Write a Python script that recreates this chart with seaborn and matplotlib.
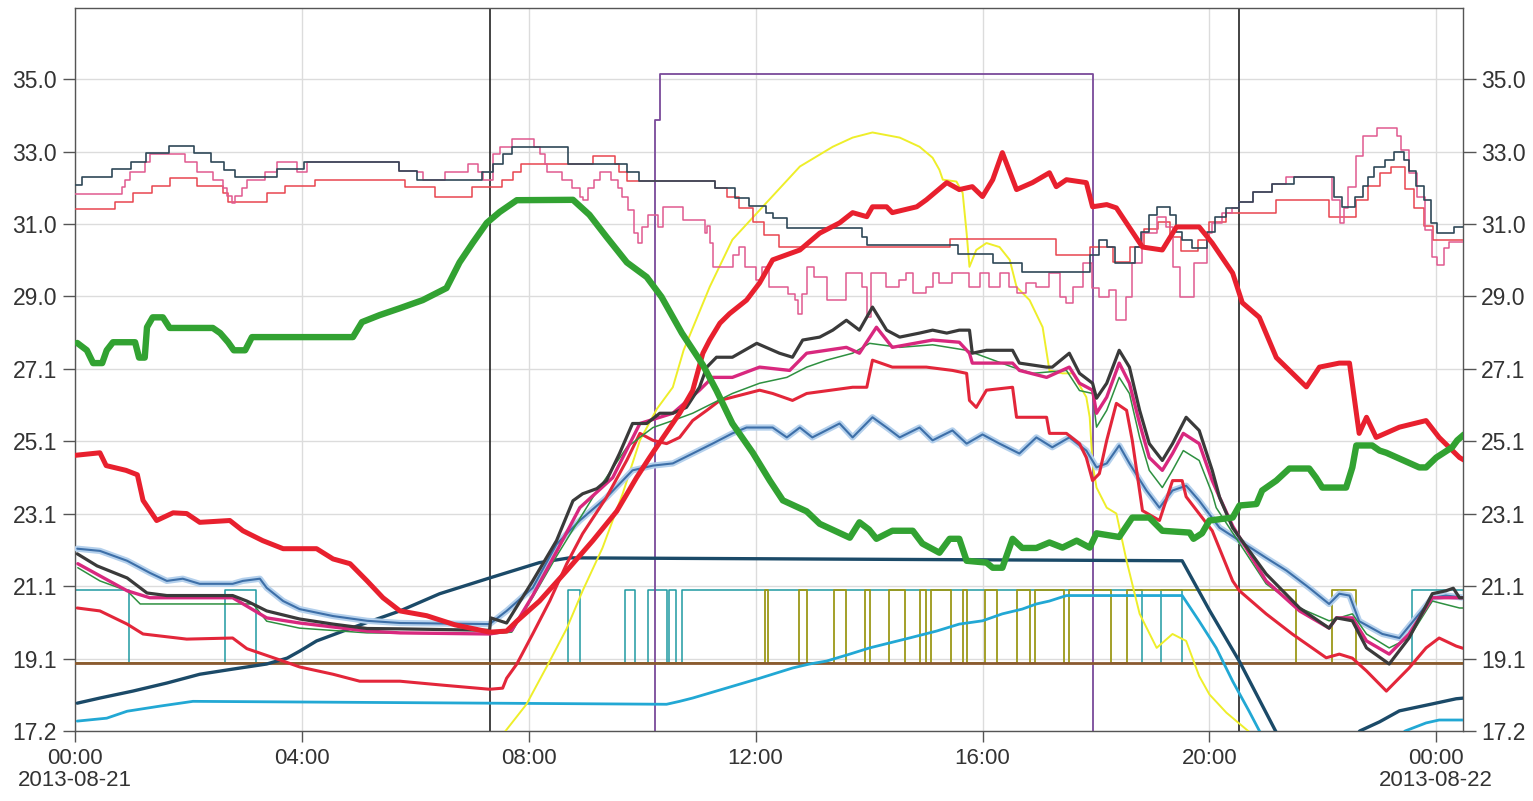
"""Greenhouse climate log, 2013-08-21: temperatures and switching signals."""

import matplotlib
matplotlib.use("Agg")
import matplotlib.pyplot as plt
import pandas as pd
import seaborn as sns

# ---- data (hour of day, value) ------------------------------------------
dark_top = [(0, 32.12), (0.12, 32.32), (0.65, 32.56), (0.99, 32.75), (1.25, 33.0), (1.66, 33.19),
            (2.1, 33.0), (2.4, 32.75), (2.62, 32.53), (2.82, 32.32), (3.56, 32.56), (4.04, 32.73),
            (5.71, 32.5), (6.03, 32.26), (7.17, 32.48), (7.37, 32.7), (7.54, 32.95), (7.7, 33.16),
            (8.69, 32.7), (9.73, 32.48), (9.94, 32.23), (11.28, 32.04), (11.64, 31.77), (11.89, 31.55),
            (12.19, 31.36), (12.3, 31.2), (12.55, 30.95), (13.87, 30.7), (13.97, 30.48), (15.56, 30.23),
            (16.18, 29.99), (16.7, 29.74), (17.89, 30.2), (18.06, 30.62), (18.2, 30.42), (18.33, 29.99),
            (18.68, 30.42), (18.8, 30.84), (18.94, 31.3), (19.07, 31.52), (19.3, 31.3), (19.42, 30.84),
            (19.52, 30.62), (19.7, 30.4), (19.95, 30.84), (20.1, 31.25), (20.3, 31.5), (20.53, 31.66),
            (20.76, 31.93), (21.1, 32.15), (21.5, 32.34), (22.2, 31.8), (22.33, 31.52), (22.56, 31.8),
            (22.7, 32.1), (22.8, 32.34), (22.9, 32.6), (23.1, 32.8), (23.25, 33.03), (23.43, 32.8),
            (23.52, 32.5), (23.65, 32.1), (23.78, 31.7), (23.9, 31.08), (24.02, 30.8), (24.32, 30.97),
            (24.49, 30.97)]

pink_top = [(0, 31.88), (0.83, 32.07), (0.88, 32.26), (0.97, 32.48), (1.23, 32.73), (1.32, 32.95),
            (1.94, 32.73), (2.15, 32.48), (2.43, 32.26), (2.61, 32.04), (2.68, 31.82), (2.77, 31.63),
            (2.82, 31.82), (2.94, 32.04), (3.03, 32.26), (3.35, 32.48), (3.56, 32.73), (3.91, 32.48),
            (4.09, 32.73), (5.71, 32.5), (6.03, 32.48), (6.13, 32.26), (6.52, 32.48), (6.93, 32.7),
            (7.1, 32.48), (7.2, 32.26), (7.37, 32.95), (7.49, 33.14), (7.7, 33.36), (8.1, 33.14),
            (8.19, 32.95), (8.28, 32.7), (8.33, 32.48), (8.58, 32.26), (8.76, 32.04), (8.9, 31.8),
            (8.95, 31.71), (9.05, 32.04), (9.15, 32.26), (9.25, 32.48), (9.45, 32.26), (9.58, 32.04),
            (9.65, 31.8), (9.75, 31.44), (9.85, 30.8), (9.92, 30.53), (10.0, 30.97), (10.1, 31.3),
            (10.28, 30.97), (10.36, 31.52), (10.72, 31.16), (11.1, 30.8), (11.15, 31.0), (11.2, 30.53),
            (11.25, 29.88), (11.6, 30.2), (11.7, 30.42), (11.82, 29.88), (12.0, 29.52), (12.12, 29.88),
            (12.23, 29.33), (12.57, 29.15), (12.7, 28.97), (12.75, 28.6), (12.82, 29.15), (12.9, 29.88),
            (13.03, 29.6), (13.26, 28.97), (13.6, 29.71), (13.88, 29.33), (13.97, 28.5), (14.04, 29.71),
            (14.3, 29.33), (14.53, 29.52), (14.65, 29.71), (14.77, 29.16), (15.01, 29.33), (15.12, 29.71),
            (15.24, 29.44), (15.47, 29.71), (15.77, 29.33), (15.95, 29.71), (16.12, 29.33), (16.3, 29.71),
            (16.47, 29.33), (16.6, 29.16), (16.77, 29.44), (16.95, 29.33), (17.18, 29.71), (17.36, 29.05),
            (17.48, 28.9), (17.6, 29.33), (17.77, 29.99), (17.93, 29.3), (18.05, 29.05), (18.23, 29.25),
            (18.36, 28.42), (18.53, 29.05), (18.63, 29.99), (18.82, 30.8), (19.07, 31.25), (19.24, 30.97),
            (19.36, 29.88), (19.48, 29.05), (19.72, 29.99), (19.95, 30.8), (20.05, 31.08), (20.23, 31.36),
            (20.4, 31.5), (20.53, 31.66), (20.76, 31.93), (21.1, 32.15), (21.35, 32.34), (22.17, 31.7),
            (22.3, 31.08), (22.37, 31.5), (22.45, 32.07), (22.58, 32.9), (22.7, 33.44), (22.95, 33.68),
            (23.3, 33.44), (23.38, 33.08), (23.52, 32.45), (23.66, 31.79), (23.8, 30.89), (23.93, 30.15),
            (24.02, 29.93), (24.14, 30.4), (24.23, 30.56), (24.49, 30.56)]

red_top = [(0, 31.47), (0.7, 31.66), (1.02, 31.9), (1.36, 32.1), (1.67, 32.3), (2.15, 32.1),
           (2.61, 31.9), (2.7, 31.66), (3.38, 31.9), (3.7, 32.1), (4.23, 32.26), (5.82, 32.07),
           (6.34, 31.8), (7.0, 32.07), (7.52, 32.26), (7.72, 32.48), (7.87, 32.7), (9.13, 32.92),
           (9.52, 32.7), (9.6, 32.48), (9.74, 32.23), (11.28, 32.04), (11.49, 31.8), (11.7, 31.5),
           (11.95, 31.1), (12.15, 30.75), (12.42, 30.42), (15.42, 30.64), (17.3, 30.2), (17.89, 30.42),
           (18.3, 30.0), (18.6, 30.42), (18.85, 30.9), (19.1, 31.1), (19.3, 30.7), (19.5, 30.3),
           (19.8, 30.6), (20.0, 31.1), (20.3, 31.36), (21.18, 31.71), (22.11, 31.25), (22.59, 31.71),
           (22.8, 32.1), (23.0, 32.45), (23.2, 32.6), (23.45, 32.0), (23.6, 31.5), (23.78, 31.0),
           (23.95, 30.62), (24.49, 30.62)]

green_thick = [(0.04, 27.8), (0.21, 27.6), (0.32, 27.25), (0.48, 27.25), (0.56, 27.6), (0.67, 27.82),
               (1.06, 27.82), (1.13, 27.4), (1.23, 27.4), (1.27, 28.23), (1.37, 28.5), (1.55, 28.5),
               (1.67, 28.21), (2.43, 28.21), (2.56, 28.07), (2.7, 27.82), (2.8, 27.6), (3.0, 27.6),
               (3.12, 27.96), (4.9, 27.96), (5.06, 28.37), (5.37, 28.56), (5.73, 28.75), (6.13, 28.97),
               (6.55, 29.3), (6.78, 30.0), (7.01, 30.53), (7.26, 31.08), (7.49, 31.38), (7.79, 31.7),
               (8.78, 31.71), (9.07, 31.3), (9.37, 30.7), (9.73, 30.0), (10.08, 29.6), (10.34, 29.06),
               (10.7, 28.07), (11.07, 27.2), (11.31, 26.5), (11.59, 25.6), (11.95, 24.8), (12.25, 24.04),
               (12.48, 23.5), (12.9, 23.2), (13.13, 22.86), (13.66, 22.48), (13.83, 22.9), (14.0, 22.7),
               (14.13, 22.45), (14.41, 22.67), (14.77, 22.67), (14.94, 22.32), (15.24, 22.07), (15.42, 22.45),
               (15.59, 22.45), (15.72, 21.85), (16.07, 21.8), (16.18, 21.66), (16.35, 21.66), (16.53, 22.45),
               (16.7, 22.2), (16.95, 22.2), (17.18, 22.35), (17.41, 22.21), (17.66, 22.4), (17.89, 22.21),
               (18.01, 22.6), (18.41, 22.5), (18.64, 23.03), (18.94, 23.03), (19.17, 22.67), (19.65, 22.62),
               (19.72, 22.45), (19.87, 22.6), (20.0, 22.95), (20.41, 23.03), (20.53, 23.36), (20.83, 23.4),
               (20.93, 23.77), (21.18, 24.04), (21.41, 24.37), (21.76, 24.37), (21.88, 24.12), (21.99, 23.85),
               (22.41, 23.85), (22.52, 24.4), (22.59, 25.0), (22.87, 25.0), (23.0, 24.86), (23.12, 24.8),
               (23.7, 24.4), (23.82, 24.4), (24.0, 24.67), (24.28, 24.95), (24.37, 25.14), (24.49, 25.3)]

red_thick = [(0, 24.73), (0.44, 24.8), (0.55, 24.45), (0.9, 24.32), (1.1, 24.2), (1.2, 23.5),
             (1.44, 22.95), (1.73, 23.16), (1.97, 23.14), (2.2, 22.9), (2.73, 22.95), (2.96, 22.67),
             (3.31, 22.4), (3.67, 22.18), (4.26, 22.18), (4.55, 21.9), (4.85, 21.77), (5.15, 21.3),
             (5.43, 20.84), (5.73, 20.48), (6.2, 20.35), (6.7, 20.1), (7.31, 19.9), (7.61, 19.93),
             (7.79, 20.2), (8.19, 20.75), (8.67, 21.58), (9.13, 22.4), (9.55, 23.2), (9.9, 24.12),
             (10.13, 24.67), (10.36, 25.2), (10.66, 25.88), (10.89, 26.5), (11.07, 27.52), (11.19, 27.88),
             (11.37, 28.34), (11.54, 28.6), (11.84, 28.97), (12.07, 29.44), (12.3, 30.07), (12.78, 30.34),
             (13.13, 30.8), (13.48, 31.08), (13.71, 31.36), (13.96, 31.25), (14.06, 31.52), (14.31, 31.52),
             (14.41, 31.36), (14.84, 31.52), (15.01, 31.71), (15.37, 32.18), (15.59, 31.99), (15.82, 32.07),
             (16.0, 31.8), (16.18, 32.26), (16.35, 33.0), (16.6, 31.99), (16.88, 32.18), (17.18, 32.45),
             (17.3, 32.07), (17.48, 32.26), (17.83, 32.18), (17.94, 31.52), (18.19, 31.58), (18.36, 31.49),
             (18.82, 30.42), (19.17, 30.34), (19.42, 30.97), (19.82, 30.97), (20.05, 30.53), (20.41, 29.71),
             (20.58, 28.9), (20.88, 28.5), (21.18, 27.4), (21.59, 26.78), (21.71, 26.6), (21.94, 27.14),
             (22.29, 27.25), (22.47, 27.25), (22.64, 25.33), (22.77, 25.77), (22.94, 25.22), (23.35, 25.5),
             (23.82, 25.68), (24.05, 25.22), (24.41, 24.67), (24.49, 24.6)]

charcoal_mid = [(0.04, 22.04), (0.39, 21.71), (0.92, 21.38), (1.27, 20.97), (1.62, 20.9), (2.78, 20.9),
                (3.03, 20.75), (3.38, 20.48), (3.96, 20.26), (4.55, 20.12), (5.15, 20.0), (5.73, 19.99),
                (7.31, 19.95), (7.33, 20.29), (7.61, 20.15), (8.07, 21.3), (8.49, 22.4), (8.78, 23.49),
                (8.95, 23.68), (9.2, 23.82), (9.37, 24.04), (9.6, 24.78), (9.83, 25.6), (10.08, 25.6),
                (10.31, 25.88), (10.54, 25.88), (10.78, 26.04), (11.01, 26.59), (11.14, 27.14), (11.31, 27.41),
                (11.59, 27.41), (12.02, 27.79), (12.42, 27.52), (12.65, 27.41), (12.83, 27.88), (13.13, 27.96),
                (13.36, 28.15), (13.6, 28.42), (13.83, 28.15), (14.06, 28.78), (14.31, 28.15), (14.54, 27.96),
                (14.89, 28.07), (15.12, 28.15), (15.37, 28.07), (15.59, 28.15), (15.77, 28.15), (15.82, 27.52),
                (16.07, 27.6), (16.53, 27.6), (16.65, 27.25), (17.13, 27.14), (17.23, 27.14), (17.53, 27.52),
                (17.71, 26.97), (17.94, 26.7), (18.01, 26.29), (18.19, 26.7), (18.41, 27.6), (18.59, 27.14),
                (18.77, 25.96), (18.94, 25.05), (19.17, 24.59), (19.35, 25.05), (19.59, 25.77), (19.82, 25.41),
                (20.05, 24.32), (20.18, 23.58), (20.41, 22.75), (21.0, 21.49), (21.59, 20.56), (22.11, 20.01),
                (22.24, 20.29), (22.52, 20.21), (22.77, 19.47), (23.17, 19.03), (23.52, 19.74), (23.93, 20.95),
                (24.17, 21.03), (24.3, 21.1), (24.41, 20.84), (24.49, 20.84)]

pink_mid = [(0.05, 21.77), (0.92, 21.03), (1.32, 20.84), (2.78, 20.84), (3.38, 20.29), (3.96, 20.15),
            (5.15, 19.93), (5.73, 19.88), (7.31, 19.85), (7.7, 19.95), (8.07, 20.9), (8.49, 22.1),
            (8.9, 23.3), (9.48, 24.12), (9.96, 25.6), (10.54, 25.88), (11.01, 26.51), (11.24, 26.86),
            (11.59, 26.86), (12.07, 27.14), (12.6, 27.05), (12.9, 27.52), (13.6, 27.68), (13.83, 27.52),
            (14.13, 28.23), (14.41, 27.68), (15.12, 27.88), (15.59, 27.82), (15.77, 27.52), (15.82, 27.25),
            (16.53, 27.25), (16.65, 27.05), (17.13, 26.86), (17.53, 27.14), (17.71, 26.7), (17.94, 26.51),
            (18.01, 25.88), (18.19, 26.32), (18.41, 27.25), (18.59, 26.7), (18.77, 25.6), (18.94, 24.67),
            (19.17, 24.32), (19.35, 24.78), (19.54, 25.33), (19.82, 25.05), (20.05, 24.04), (20.18, 23.58),
            (20.41, 22.8), (21.0, 21.3), (21.59, 20.48), (22.11, 20.01), (22.24, 20.29), (22.52, 20.29),
            (22.77, 19.66), (23.17, 19.3), (23.52, 19.85), (23.93, 20.84), (24.49, 20.84)]

green_mid = [(0.05, 21.66), (0.44, 21.3), (0.92, 21.03), (1.15, 20.67), (3.14, 20.67), (3.38, 20.2),
             (3.96, 20.01), (5.15, 19.88), (7.31, 19.85), (7.7, 19.9), (8.07, 20.85), (8.5, 22.0),
             (9.13, 23.58), (9.73, 24.95), (10.19, 25.49), (10.54, 25.68), (10.89, 25.88), (11.24, 26.15),
             (11.59, 26.42), (12.07, 26.7), (12.55, 26.86), (12.9, 27.14), (13.25, 27.33), (13.71, 27.52),
             (14.01, 27.79), (14.54, 27.68), (15.12, 27.75), (15.72, 27.6), (16.53, 27.14), (16.88, 26.97),
             (17.48, 27.05), (17.71, 26.5), (17.94, 26.42), (18.01, 25.5), (18.19, 25.96), (18.41, 26.86),
             (18.59, 26.42), (18.77, 25.22), (18.94, 24.32), (19.17, 23.85), (19.35, 24.32), (19.54, 24.86),
             (19.82, 24.59), (20.05, 23.68), (20.12, 23.3), (21.0, 21.22), (21.59, 20.56), (22.11, 20.21),
             (22.52, 20.4), (22.77, 19.85), (23.17, 19.47), (23.52, 19.74), (23.93, 20.75), (24.41, 20.56),
             (24.49, 20.56)]

red_mid = [(0.04, 20.56), (0.44, 20.48), (0.92, 20.12), (1.2, 19.85), (1.97, 19.71), (2.78, 19.74),
           (3.03, 19.45), (3.67, 19.11), (3.96, 18.95), (4.55, 18.75), (5.02, 18.56), (5.73, 18.56),
           (6.5, 18.45), (7.31, 18.34), (7.54, 18.37), (7.61, 18.64), (7.79, 19.03), (8.07, 19.85),
           (8.37, 20.75), (8.67, 21.77), (8.95, 22.59), (9.37, 23.58), (9.73, 24.6), (9.96, 25.33),
           (10.19, 25.14), (10.43, 25.05), (10.66, 25.22), (10.89, 25.68), (11.14, 25.96), (11.37, 26.23),
           (11.72, 26.37), (12.07, 26.51), (12.3, 26.42), (12.65, 26.23), (12.9, 26.42), (13.71, 26.59),
           (13.96, 26.59), (14.06, 27.33), (14.41, 27.14), (15.01, 27.14), (15.47, 27.05), (15.72, 26.97),
           (15.77, 26.23), (15.89, 26.04), (16.07, 26.51), (16.53, 26.59), (16.6, 25.77), (17.13, 25.77),
           (17.18, 25.33), (17.48, 25.33), (17.71, 25.05), (17.83, 24.67), (17.94, 24.04), (18.06, 24.23),
           (18.19, 25.14), (18.36, 26.15), (18.54, 25.96), (18.64, 25.14), (18.82, 23.22), (19.12, 22.95),
           (19.35, 24.04), (19.52, 24.04), (19.59, 23.6), (20.05, 22.67), (20.41, 21.3), (20.53, 21.03),
           (21.0, 20.4), (21.46, 19.85), (22.06, 19.2), (22.29, 19.3), (22.52, 19.19), (22.77, 18.84),
           (23.12, 18.29), (23.52, 18.92), (23.82, 19.47), (24.05, 19.74), (24.35, 19.52), (24.49, 19.45)]

blue_mid = [(0.04, 22.18), (0.44, 22.12), (0.92, 21.85), (1.32, 21.52), (1.62, 21.3), (1.9, 21.36),
            (2.2, 21.22), (2.78, 21.22), (2.96, 21.3), (3.26, 21.36), (3.38, 21.11), (3.67, 20.75),
            (3.96, 20.53), (4.55, 20.34), (5.15, 20.21), (5.73, 20.15), (7.31, 20.12), (7.61, 20.48),
            (8.07, 21.11), (8.49, 22.3), (8.9, 22.95), (9.37, 23.58), (9.83, 24.32), (10.19, 24.45),
            (10.54, 24.51), (10.89, 24.78), (11.24, 25.05), (11.59, 25.33), (11.84, 25.49), (12.3, 25.49),
            (12.55, 25.22), (12.78, 25.49), (13.0, 25.22), (13.48, 25.6), (13.71, 25.22), (14.06, 25.77),
            (14.31, 25.49), (14.54, 25.22), (14.89, 25.49), (15.12, 25.14), (15.47, 25.41), (15.72, 25.05),
            (16.0, 25.3), (16.3, 25.05), (16.65, 24.78), (16.95, 25.22), (17.23, 24.95), (17.53, 25.22),
            (17.83, 24.86), (18.01, 24.4), (18.19, 24.51), (18.41, 25.0), (18.59, 24.51), (18.89, 23.77),
            (19.12, 23.3), (19.35, 23.77), (19.59, 23.9), (19.82, 23.49), (20.18, 22.75), (20.53, 22.4),
            (21.0, 21.93), (21.36, 21.58), (21.76, 21.11), (22.11, 20.67), (22.29, 20.95), (22.47, 20.9),
            (22.64, 20.2), (23.05, 19.85), (23.35, 19.74), (23.7, 20.4), (23.93, 20.84), (24.17, 20.9),
            (24.49, 20.84)]

navy = [(0.04, 17.96), (0.44, 18.1), (1.02, 18.29), (1.62, 18.51), (2.2, 18.75), (2.78, 18.89),
        (3.38, 19.03), (3.74, 19.19), (3.96, 19.38), (4.26, 19.66), (4.85, 20.0), (5.73, 20.48),
        (6.43, 20.95), (7.31, 21.38), (8.19, 21.8), (8.72, 21.93), (19.52, 21.85), (20.0, 20.5),
        (20.53, 19.1), (21.2, 17.1), (21.6, 16.3), (22.3, 16.3), (22.65, 17.2), (23.0, 17.45),
        (23.35, 17.75), (23.93, 17.94), (24.35, 18.08), (24.49, 18.1)]

cyan = [(0.04, 17.47), (0.56, 17.55), (0.92, 17.74), (1.5, 17.88), (2.08, 18.01), (10.43, 17.93),
        (10.66, 18.01), (10.89, 18.1), (11.48, 18.37), (12.07, 18.64), (12.65, 18.92), (12.95, 19.03),
        (13.25, 19.11), (13.66, 19.3), (14.01, 19.47), (14.71, 19.74), (15.19, 19.93), (15.59, 20.12),
        (16.0, 20.21), (16.35, 20.4), (16.7, 20.53), (16.95, 20.67), (17.18, 20.75), (17.48, 20.9),
        (19.52, 20.9), (19.82, 20.2), (20.12, 19.47), (20.41, 18.56), (20.7, 17.74), (20.95, 17.0),
        (21.3, 16.5), (23.0, 16.5), (23.45, 17.2), (23.82, 17.42), (24.05, 17.5), (24.49, 17.5)]

yellow = [(7.4, 16.8), (7.54, 17.1), (7.96, 17.93), (8.37, 19.11), (8.67, 20.0), (8.95, 21.03),
          (9.3, 22.2), (9.66, 23.7), (9.96, 25.14), (10.26, 26.0), (10.54, 26.59), (10.73, 27.6),
          (11.19, 29.33), (11.59, 30.62), (12.19, 31.63), (12.78, 32.62), (13.36, 33.16), (13.71, 33.41),
          (14.06, 33.55), (14.54, 33.41), (14.89, 33.16), (15.12, 32.86), (15.24, 32.53), (15.3, 32.26),
          (15.54, 32.21), (15.65, 31.9), (15.72, 30.8), (15.77, 29.88), (15.89, 30.34), (16.07, 30.53),
          (16.3, 30.42), (16.48, 30.07), (16.6, 29.33), (16.83, 28.97), (17.06, 28.23), (17.18, 27.05),
          (17.41, 26.97), (17.59, 26.97), (17.83, 26.32), (17.89, 25.77), (17.94, 24.5), (18.01, 23.85),
          (18.19, 23.3), (18.36, 23.14), (18.54, 21.85), (18.77, 20.4), (19.07, 19.47), (19.35, 19.85),
          (19.59, 19.66), (19.82, 18.7), (20.0, 18.2), (20.3, 17.7), (20.76, 17.1), (20.85, 16.9)]

heater = [(0, 19.05), (24.49, 19.05)]

teal_switch = [(0, 21.05), (0.95, 19.05), (2.64, 21.05), (3.19, 19.05), (8.69, 21.05), (8.9, 19.05),
               (9.69, 21.05), (9.87, 19.05), (10.11, 21.05), (10.43, 19.05), (10.48, 21.05), (10.6, 19.05),
               (10.71, 21.05), (18.82, 19.05), (19.15, 21.05), (19.52, 19.05), (23.58, 21.05), (24.49, 21.05)]

olive_switch = [(0, 19.05), (12.16, 21.05), (12.21, 19.05), (12.76, 21.05), (12.9, 19.05), (13.39, 21.05),
                (13.6, 19.05), (13.92, 21.05), (14.01, 19.05), (14.36, 21.05), (14.63, 19.05), (14.89, 21.05),
                (15.01, 19.05), (15.1, 21.05), (15.45, 19.05), (15.65, 21.05), (15.72, 19.05), (16.05, 21.05),
                (16.25, 19.05), (16.6, 21.05), (16.83, 19.05), (16.92, 21.05), (17.44, 19.05), (17.53, 21.05),
                (18.27, 19.05), (18.54, 21.05), (21.53, 19.05), (22.17, 21.05), (22.59, 19.05), (24.49, 19.05)]

screen = [(0, 15.0), (10.22, 33.9), (10.31, 35.15), (17.95, 15.0), (24.49, 15.0)]

sun_events = [7.31, 20.53]

x_tick_hours = [0, 4, 8, 12, 16, 20, 24]
x_tick_labels = ["00:00\n2013-08-21", "04:00", "08:00", "12:00", "16:00", "20:00", "00:00\n2013-08-22"]
y_tick_values = [17.2, 19.18, 21.16, 23.13, 25.11, 27.09, 29.07, 31.04, 33.02, 35.0]
y_tick_labels = ["17.2", "19.1", "21.1", "23.1", "25.1", "27.1", "29.0", "31.0", "33.0", "35.0"]


def draw(ax, series, color, lw, steps=False, z=2):
    df = pd.DataFrame(series, columns=["hour", "value"])
    sns.lineplot(data=df, x="hour", y="value", ax=ax, color=color, linewidth=lw,
                 estimator=None, sort=False, legend=False, zorder=z,
                 drawstyle="steps-post" if steps else "default")


def main() -> None:
    sns.set_theme(style="white")
    plt.rcParams["font.family"] = ["Liberation Sans", "DejaVu Sans"]

    fig = plt.figure(figsize=(15.33, 8.01), dpi=100)
    ax = fig.add_axes([0.0489, 0.0874, 0.9054, 0.9026])

    # switching signals and markers underneath
    draw(ax, heater, "#8a5a30", 2.0, z=3)
    draw(ax, teal_switch, "#1f9aa2", 1.1, steps=True, z=2)
    draw(ax, olive_switch, "#9c9818", 1.3, steps=True, z=2.1)
    draw(ax, screen, "#7a4a9a", 1.3, steps=True, z=2.2)
    for h in sun_events:
        ax.axvline(h, color="#222222", lw=1.2, zorder=2.3)

    draw(ax, cyan, "#22a8d4", 2.0, z=4)
    draw(ax, navy, "#1b4a68", 2.4, z=4.1)
    draw(ax, yellow, "#eeee2a", 1.4, z=4.2)

    # upper group of thin step lines
    draw(ax, red_top, "#e8454f", 1.1, steps=True, z=5)
    draw(ax, pink_top, "#e05a90", 1.1, steps=True, z=5.1)
    draw(ax, dark_top, "#2f4858", 1.2, steps=True, z=5.2)

    # middle group
    draw(ax, blue_mid, "#b4d0ec", 4.5, z=6)
    draw(ax, blue_mid, "#3d6fa8", 1.5, z=6.1)
    draw(ax, red_mid, "#e3263a", 2.2, z=6.2)
    draw(ax, green_mid, "#2e9040", 1.1, z=6.3)
    draw(ax, pink_mid, "#d8287e", 2.4, z=6.4)
    draw(ax, charcoal_mid, "#3a3a3a", 2.3, z=6.5)

    draw(ax, red_thick, "#e8202e", 3.6, z=7)
    draw(ax, green_thick, "#32a232", 4.6, z=8)

    ax.set_xlim(0, 24.47)
    ax.set_ylim(17.2, 36.95)
    ax.set_xticks(x_tick_hours)
    ax.set_xticklabels(x_tick_labels, linespacing=1.1)
    ax.set_yticks(y_tick_values)
    ax.set_yticklabels(y_tick_labels)
    ax.set_xlabel("")
    ax.set_ylabel("")

    ax.grid(True, color="#dcdcdc", linewidth=1.0, zorder=0)
    ax.set_axisbelow(True)
    ax.tick_params(axis="y", left=True, right=True, labelleft=True, labelright=True,
                   direction="out", length=9, width=1, color="#555555",
                   labelsize=16.5, labelcolor="#333333", pad=4)
    ax.tick_params(axis="x", bottom=True, direction="out", length=8, width=1,
                   color="#555555", labelsize=16, labelcolor="#333333", pad=4)
    for spine in ax.spines.values():
        spine.set_color("#555555")
        spine.set_linewidth(1.0)

    fig.savefig("out.png", dpi=100)
    plt.close(fig)


if __name__ == "__main__":
    main()
